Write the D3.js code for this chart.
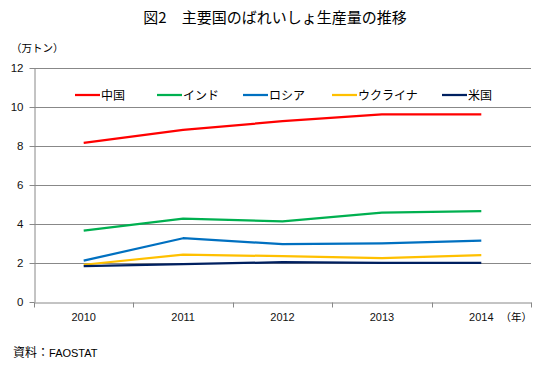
<!DOCTYPE html>
<html lang="ja">
<head>
<meta charset="utf-8">
<title>図2 主要国のばれいしょ生産量の推移</title>
<script src="https://d3js.org/d3.v7.min.js"></script>
<style>
  body { margin: 0; background: #fff; }
  text { font-family: "Noto Sans CJK JP", "Liberation Sans", sans-serif; }
  .num { font-family: "Liberation Sans", "DejaVu Sans", sans-serif; }
</style>
</head>
<body>
<script>
// data (万トン)
var years = ["2010", "2011", "2012", "2013", "2014"];
var countries = ["中国", "インド", "ロシア", "ウクライナ", "米国"];
var china   = [8.16, 8.83, 9.27, 9.62, 9.62];
var india   = [3.66, 4.27, 4.14, 4.58, 4.66];
var russia  = [2.12, 3.27, 2.97, 3.01, 3.15];
var ukraine = [1.91, 2.43, 2.35, 2.25, 2.40];
var usa     = [1.84, 1.94, 2.04, 2.01, 2.01];
var yTicks  = [0, 2, 4, 6, 8, 10, 12];
var colors  = ["#ff0000", "#00b050", "#0070c0", "#ffc000", "#002060"];

var series = [china, india, russia, ukraine, usa];

var w = 550, h = 374;
var margin = {top: 68, right: 19, bottom: 72, left: 34};

var svg = d3.select("body").append("svg")
  .attr("width", w)
  .attr("height", h);

var xScale = d3.scaleBand()
  .domain(years)
  .range([margin.left, w - margin.right]);

var yScale = d3.scaleLinear()
  .domain([0, 12])
  .range([h - margin.bottom, margin.top]);

// title
svg.append("text")
  .attr("x", 275)
  .attr("y", 23)
  .attr("text-anchor", "middle")
  .style("font-size", "15px")
  .text("図2　主要国のばれいしょ生産量の推移");

// unit
svg.append("text")
  .attr("x", 11)
  .attr("y", 52)
  .style("font-size", "10.5px")
  .text("（万トン）");

// gridlines
svg.append("g").selectAll("line")
  .data(yTicks.filter(function(d) { return d > 0; }))
  .enter().append("line")
  .attr("x1", margin.left)
  .attr("x2", w - margin.right)
  .attr("y1", function(d) { return Math.round(yScale(d)) + 0.5; })
  .attr("y2", function(d) { return Math.round(yScale(d)) + 0.5; })
  .attr("stroke", "#888")
  .attr("stroke-width", 1);

// y axis
var yAxis = svg.append("g")
  .attr("transform", "translate(" + (margin.left + 0.5) + ",0)")
  .call(d3.axisLeft(yScale).tickValues(yTicks).tickSize(5).tickSizeOuter(0));
yAxis.select(".domain").attr("stroke", "#888");
yAxis.selectAll(".tick line").attr("stroke", "#888");
yAxis.selectAll(".tick text")
  .attr("class", "num")
  .attr("x", -11)
  .style("font-size", "11.5px")
  .attr("fill", "#111");

// x axis
var xAxis = svg.append("g")
  .attr("transform", "translate(0," + (Math.round(yScale(0)) + 0.5) + ")")
  .call(d3.axisBottom(xScale).tickSize(0));
xAxis.select(".domain").attr("stroke", "#888");
xAxis.selectAll(".tick text")
  .attr("class", "num")
  .attr("y", 11)
  .style("font-size", "11px")
  .attr("fill", "#111");

// x tick marks at band boundaries
var bounds = years.map(function(d) { return xScale(d); }).concat([w - margin.right]);
svg.append("g").selectAll("line")
  .data(bounds)
  .enter().append("line")
  .attr("x1", function(d) { return Math.round(d) + 0.5; })
  .attr("x2", function(d) { return Math.round(d) + 0.5; })
  .attr("y1", Math.round(yScale(0)) + 0.5)
  .attr("y2", Math.round(yScale(0)) + 5.5)
  .attr("stroke", "#888");

svg.append("text")
  .attr("x", w - margin.right + 1)
  .attr("y", 321)
  .attr("text-anchor", "end")
  .style("font-size", "10.5px")
  .text("（年）");

// lines
var line = d3.line()
  .x(function(d, i) { return xScale(years[i]) + xScale.bandwidth() / 2; })
  .y(function(d) { return yScale(d); });

svg.append("g").selectAll("path")
  .data(series)
  .enter().append("path")
  .attr("d", line)
  .attr("fill", "none")
  .attr("stroke", function(d, i) { return colors[i]; })
  .attr("stroke-width", 2.25)
  .attr("stroke-linejoin", "round");

// legend
var legendX = [75, 157, 243, 332, 442];
var legend = svg.append("g").selectAll("g")
  .data(countries)
  .enter().append("g")
  .attr("transform", function(d, i) { return "translate(" + legendX[i] + ",95)"; });

legend.append("line")
  .attr("x1", 0).attr("x2", 25)
  .attr("y1", 0).attr("y2", 0)
  .attr("stroke", function(d, i) { return colors[i]; })
  .attr("stroke-width", 2.25);

legend.append("text")
  .attr("x", 26)
  .attr("y", 4.5)
  .style("font-size", "12px")
  .text(function(d) { return d; });

// source
svg.append("text")
  .attr("x", 13)
  .attr("y", 357)
  .style("font-size", "12px")
  .text("資料：")
  .append("tspan")
  .attr("class", "num")
  .style("font-size", "11px")
  .text("FAOSTAT");
</script>
</body>
</html>
